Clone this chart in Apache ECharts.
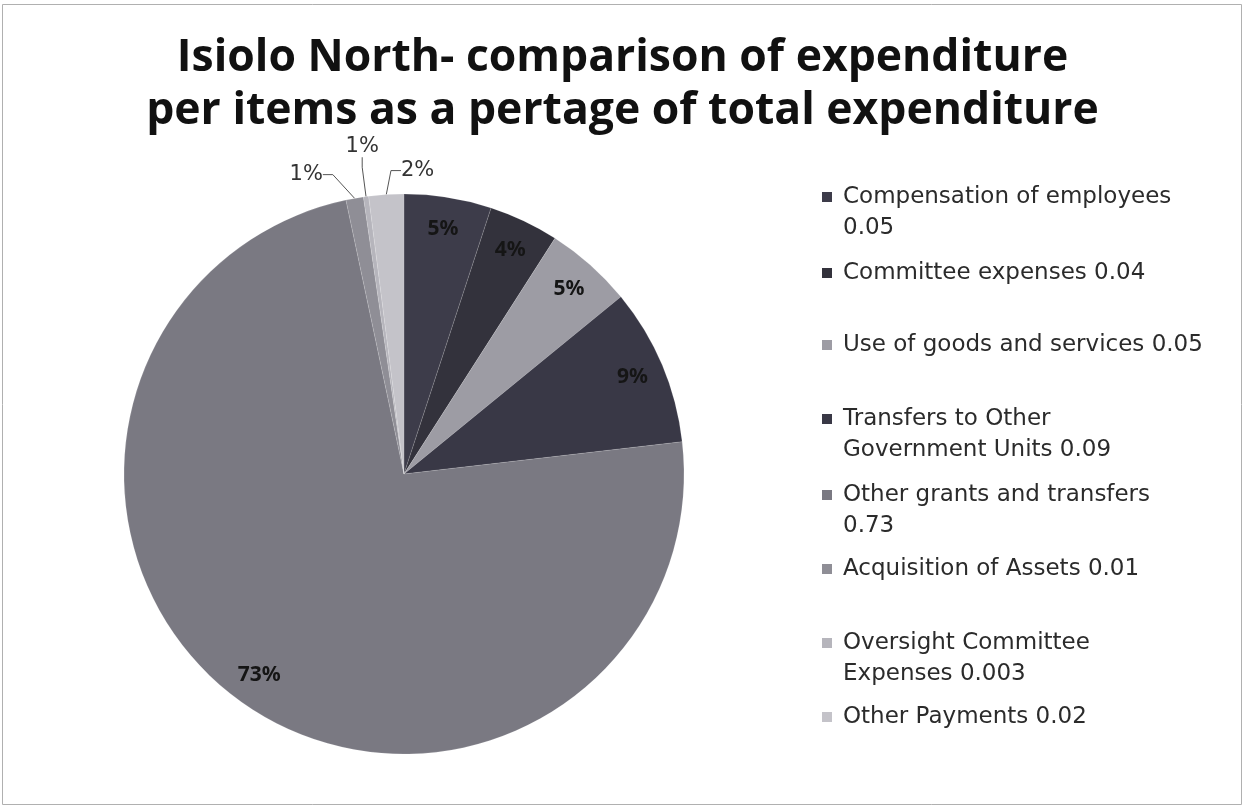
<!DOCTYPE html>
<html>
<head>
<meta charset="utf-8">
<script src="https://cdn.jsdelivr.net/npm/echarts@6/dist/echarts.min.js"></script>
<style>
  html, body { margin: 0; padding: 0; background: #fff; }
  #chart { width: 1245px; height: 809px; }
</style>
</head>
<body>
<div id="chart"></div>
<script>
// ---- data ----
const titleLines = ['Isiolo North- comparison of expenditure', 'per items as a pertage of total expenditure'];
const categories = [
  'Compensation of employees',
  'Committee expenses',
  'Use of goods and services',
  'Transfers to Other Government Units',
  'Other grants and transfers',
  'Acquisition of Assets',
  'Oversight Committee Expenses',
  'Other Payments'
];
const values = [0.05, 0.04, 0.05, 0.09, 0.73, 0.01, 0.003, 0.02];
const pctLabels = ['5%', '4%', '5%', '9%', '73%', '1%', '1%', '2%'];
const legendLabels = [
  'Compensation of employees\n0.05',
  'Committee expenses 0.04',
  'Use of goods and services 0.05',
  'Transfers to Other\nGovernment Units 0.09',
  'Other grants and transfers\n0.73',
  'Acquisition of Assets 0.01',
  'Oversight Committee\nExpenses 0.003',
  'Other Payments 0.02'
];
const colors = ['#3d3c4a', '#33323c', '#9d9ca4', '#393846', '#7a7982', '#8f8e96', '#b6b5bc', '#c4c3c9'];

// ---- layout ----
const CX = 404, CY = 474, R = 280;
const legendIconCenters = [197, 273, 345, 419, 495, 569, 643, 717];
const LINE_H = 31;
// nudges for the three small outside labels (label placement only)
const smallLabelNudge = { 5: [-14, -8], 6: [30, -34], 7: [64, -8] };

const chart = echarts.init(document.getElementById('chart'), null, { renderer: 'canvas' });

const legends = categories.map((name, i) => {
  const twoLines = legendLabels[i].indexOf('\n') >= 0;
  const boxH = twoLines ? 3 * LINE_H : LINE_H;
  return {
    left: 822,
    top: legendIconCenters[i] - boxH / 2,
    padding: 0,
    orient: 'vertical',
    icon: 'rect',
    itemWidth: 10,
    itemHeight: 10,
    itemGap: 0,
    selectedMode: false,
    data: [{ name: name, itemStyle: { color: colors[i], borderWidth: 0 } }],
    // a leading blank line keeps the first text line level with the square
    formatter: () => (twoLines ? '\n' : '') + legendLabels[i],
    textStyle: {
      fontFamily: 'DejaVu Sans',
      fontSize: 23,
      color: '#2b2b2b',
      lineHeight: LINE_H,
      padding: [0, 0, 0, 6]
    }
  };
});

const isInside = values.map(v => v >= 0.04);

chart.setOption({
  backgroundColor: '#ffffff',
  animation: false,
  color: colors,
  title: {
    text: titleLines.join('\n'),
    left: 'center',
    top: 27,
    textStyle: {
      fontFamily: 'Open Sans',
      fontWeight: 'bold',
      fontSize: 44.5,
      lineHeight: 53,
      color: '#111'
    }
  },
  legend: legends,
  graphic: [{
    type: 'rect',
    silent: true,
    shape: { x: 2.5, y: 4.5, width: 1239, height: 800 },
    style: { fill: 'none', stroke: '#b0b0b0', lineWidth: 1 }
  }],
  series: [
    {
      name: 'main',
      type: 'pie',
      center: [CX, CY],
      radius: R,
      startAngle: 90,
      clockwise: true,
      avoidLabelOverlap: false,
      emphasis: { disabled: true },
      itemStyle: { borderColor: 'rgba(255,255,255,0.25)', borderWidth: 0.5 },
      label: {
        position: 'outside',
        fontFamily: 'DejaVu Sans',
        fontSize: 21,
        color: '#333',
        formatter: p => pctLabels[p.dataIndex]
      },
      labelLine: { length: 16, length2: 10, lineStyle: { color: '#555', width: 1 } },
      labelLayout: function (params) {
        const n = smallLabelNudge[params.dataIndex];
        if (params.seriesIndex !== 0 || !n) return {};
        const r = params.labelRect;
        return {
          x: r.x + r.width / 2 + n[0],
          y: r.y + r.height / 2 + n[1],
          align: 'center',
          verticalAlign: 'middle'
        };
      },
      data: categories.map((c, i) => ({
        name: c,
        value: values[i],
        label: { show: !isInside[i] },
        labelLine: { show: !isInside[i] }
      }))
    },
    {
      name: 'inside-labels',
      type: 'pie',
      center: [CX, CY],
      radius: [R * 0.80, R * 0.95],
      startAngle: 90,
      clockwise: true,
      silent: true,
      legendHoverLink: false,
      emphasis: { disabled: true },
      itemStyle: { color: 'rgba(0,0,0,0)' },
      label: {
        position: 'inside',
        fontFamily: 'Noto Sans',
        fontWeight: 'bold',
        fontSize: 21,
        color: '#151515',
        formatter: p => pctLabels[p.dataIndex]
      },
      labelLine: { show: false },
      data: categories.map((c, i) => ({
        name: c,
        value: values[i],
        label: { show: isInside[i] }
      }))
    }
  ]
});
</script>
</body>
</html>
